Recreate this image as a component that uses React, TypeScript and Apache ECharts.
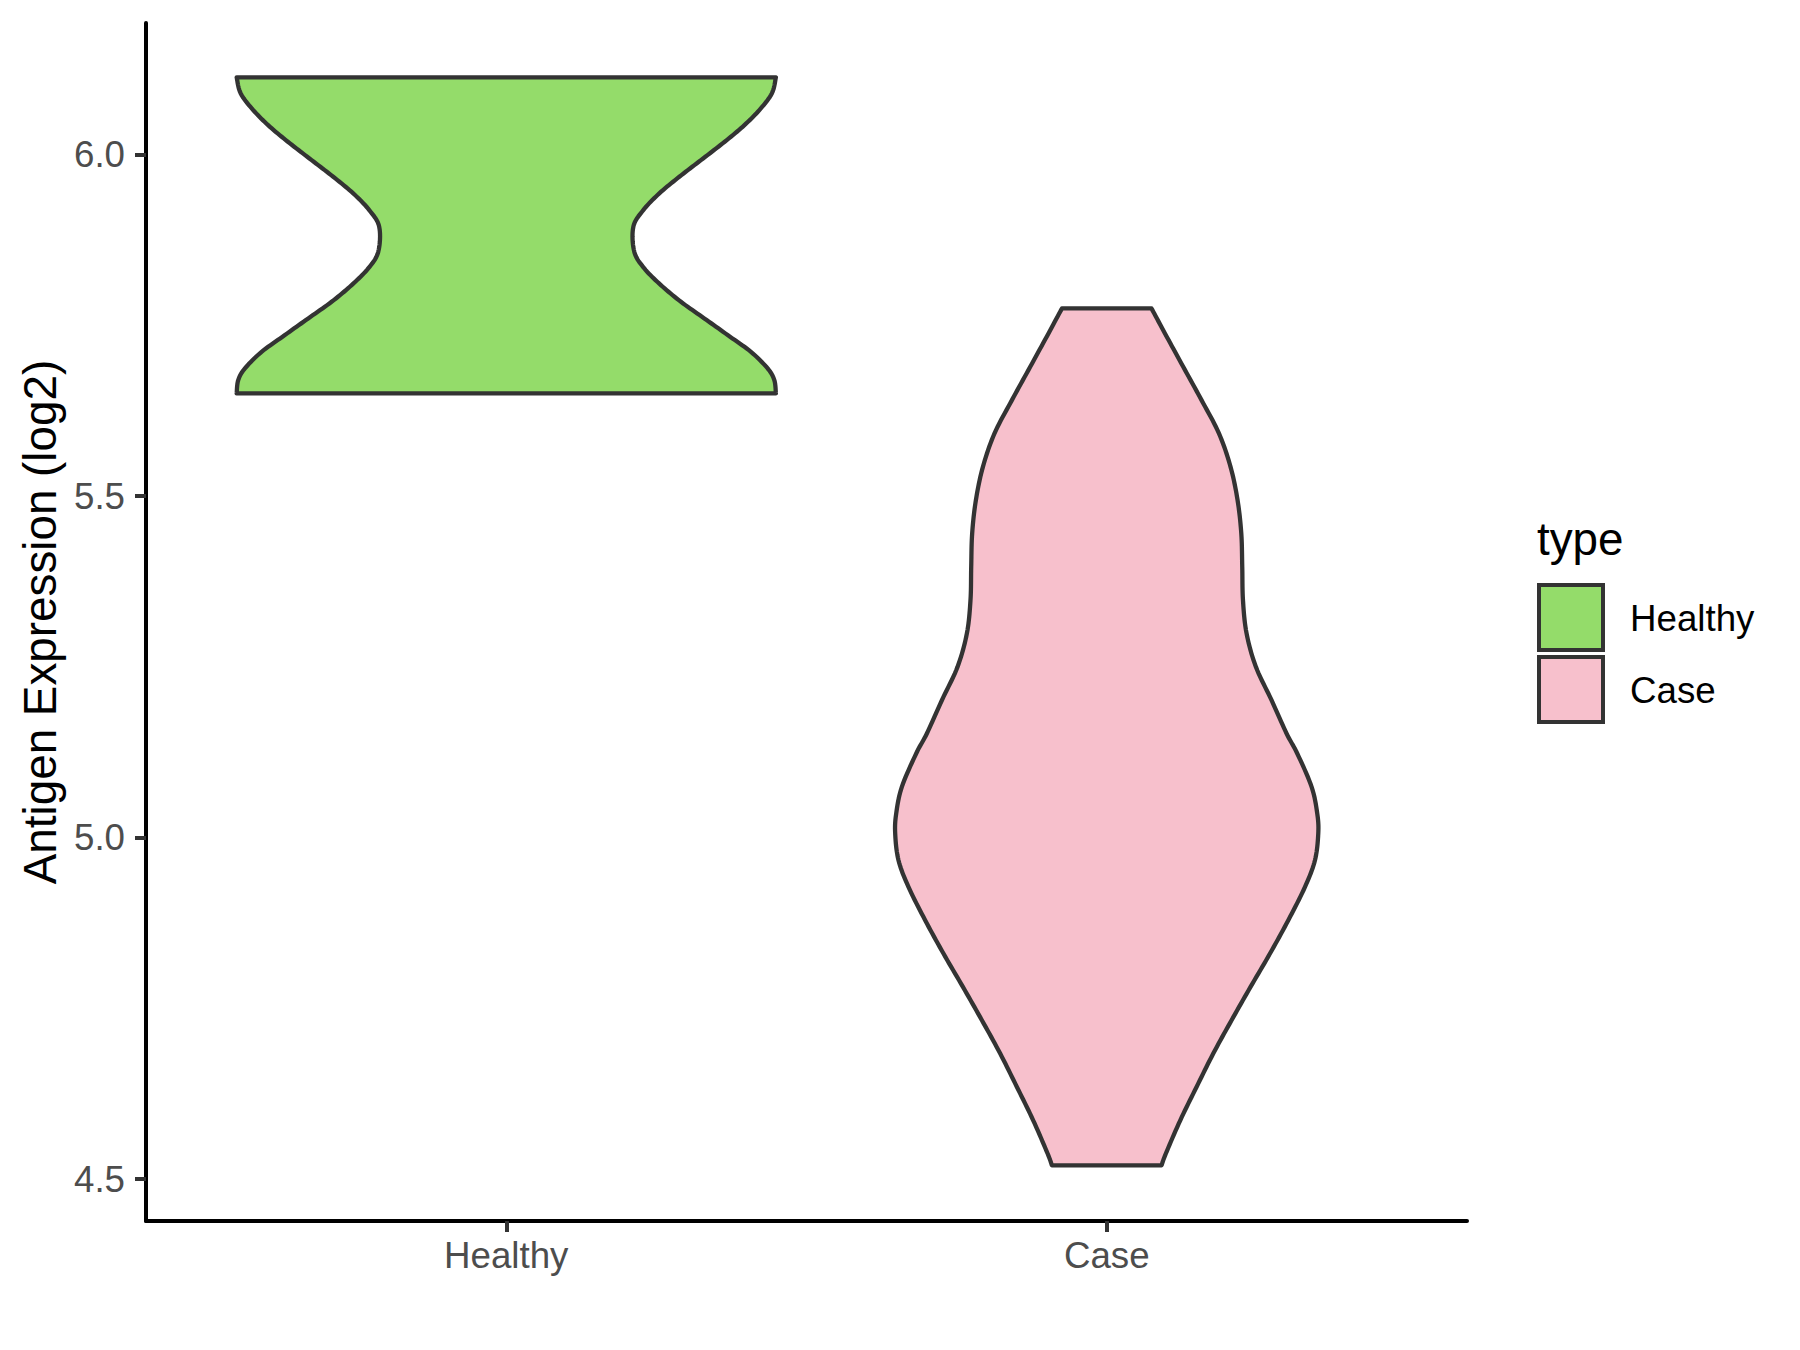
import React, { useEffect, useRef } from "react";
import * as echarts from "echarts";

const categories = ["Healthy", "Case"];
const yTicks = [4.5, 5.0, 5.5, 6.0];
const yAxisTitle = "Antigen Expression (log2)";
const legendTitle = "type";
const fillColors = ["#94DC6A", "#F7C0CC"];

// Violin outlines: y value and half-width (in category units)
const healthyY = [6.1134, 6.0899, 6.0655, 6.041, 6.0167, 5.9922, 5.9678, 5.9435, 5.919, 5.8945, 5.8579, 5.8336, 5.8092, 5.7847, 5.7604, 5.736, 5.7114, 5.6871, 5.67, 5.6505];
const healthyHalfWidth = [0.449, 0.4423, 0.4215, 0.3936, 0.3603, 0.3242, 0.2882, 0.2549, 0.2282, 0.2116, 0.2132, 0.2299, 0.2575, 0.2909, 0.3298, 0.3687, 0.4075, 0.4353, 0.4464, 0.449];
const caseY = [5.775, 5.7384, 5.6895, 5.6407, 5.5919, 5.543, 5.4942, 5.4454, 5.3965, 5.3477, 5.299, 5.25, 5.2012, 5.1525, 5.1232, 5.0743, 5.0353, 5.006, 4.9669, 4.9278, 4.879, 4.8302, 4.7813, 4.7325, 4.6837, 4.6348, 4.586, 4.5373, 4.52];
const caseHalfWidth = [0.0746, 0.097, 0.1274, 0.1579, 0.1869, 0.2062, 0.2179, 0.2241, 0.2257, 0.2269, 0.2329, 0.2485, 0.2745, 0.2995, 0.3173, 0.3412, 0.3506, 0.3523, 0.3468, 0.3302, 0.3024, 0.2719, 0.2395, 0.2079, 0.1774, 0.1496, 0.1225, 0.0985, 0.0913];

const FONT = "'Liberation Sans', Arial, Helvetica, sans-serif";

function smoothPts(pts: number[][], steps = 10): number[][] {
  const out: number[][] = [];
  const n = pts.length;
  for (let i = 0; i < n - 1; i++) {
    const p0 = pts[Math.max(i - 1, 0)];
    const p1 = pts[i];
    const p2 = pts[i + 1];
    const p3 = pts[Math.min(i + 2, n - 1)];
    for (let s = 0; s < steps; s++) {
      const t = s / steps;
      const t2 = t * t;
      const t3 = t2 * t;
      const f = (k: number) =>
        0.5 *
        (2 * p1[k] +
          (-p0[k] + p2[k]) * t +
          (2 * p0[k] - 5 * p1[k] + 4 * p2[k] - p3[k]) * t2 +
          (-p0[k] + 3 * p1[k] - 3 * p2[k] + p3[k]) * t3);
      out.push([f(0), f(1)]);
    }
  }
  out.push(pts[n - 1]);
  return out;
}

export default function App() {
  const ref = useRef<HTMLDivElement>(null);
  useEffect(() => {
    const chart = echarts.init(ref.current!, null, { renderer: "svg" });
    const makeSeries = (idx: number, ys: number[], hws: number[]) => ({
      type: "custom",
      name: categories[idx],
      coordinateSystem: "cartesian2d",
      encode: { x: 0, y: 1 },
      data: [[idx + 1, ys[0]]],
      clip: false,
      renderItem: (params: any, api: any) => {
        const xc = idx + 1;
        const left = ys.map((y, i) => api.coord([xc - hws[i], y]));
        const right = ys.map((y, i) => api.coord([xc + hws[i], y]));
        const L = smoothPts(left);
        const R = smoothPts(right).reverse();
        return {
          type: "polygon",
          shape: { points: L.concat(R) },
          style: {
            fill: fillColors[idx],
            stroke: "#333333",
            lineWidth: 4.3,
            lineJoin: "round",
          },
        };
      },
    });

    const legendItems: any[] = [
      {
        type: "text",
        x: 1537,
        y: 539,
        style: { text: legendTitle, font: `45.8px ${FONT}`, fill: "#000000", align: "left", verticalAlign: "middle" },
      },
    ];
    categories.forEach((c, i) => {
      const top = 585 + i * 72;
      legendItems.push({
        type: "rect",
        shape: { x: 1539, y: top, width: 64, height: 65 },
        style: { fill: fillColors[i], stroke: "#333333", lineWidth: 4 },
      });
      legendItems.push({
        type: "text",
        x: 1630,
        y: top + 33.5,
        style: { text: c, font: `36.7px ${FONT}`, fill: "#000000", align: "left", verticalAlign: "middle" },
      });
    });

    chart.setOption({
      animation: false,
      backgroundColor: "#ffffff",
      grid: { left: 146, right: 333, top: 23, bottom: 129, containLabel: false },
      xAxis: {
        type: "value",
        min: 0.4,
        max: 2.6,
        splitLine: { show: false },
        axisLine: { show: true, onZero: false, lineStyle: { color: "#000000", width: 4 } },
        axisTick: { show: true, customValues: [1, 2], length: 11, lineStyle: { color: "#333333", width: 4 } },
        axisLabel: {
          customValues: [1, 2],
          formatter: (v: number) => categories[Math.round(v) - 1] ?? "",
          color: "#4D4D4D",
          fontSize: 36.7,
          fontFamily: FONT,
          margin: 34,
          verticalAlign: "middle",
        },
      },
      yAxis: {
        type: "value",
        min: 4.4385,
        max: 6.193,
        splitLine: { show: false },
        axisLine: { show: true, onZero: false, lineStyle: { color: "#000000", width: 4 } },
        axisTick: { show: true, customValues: yTicks, length: 11, lineStyle: { color: "#333333", width: 4 } },
        axisLabel: {
          customValues: yTicks,
          formatter: (v: number) => v.toFixed(1),
          color: "#4D4D4D",
          fontSize: 36.7,
          fontFamily: FONT,
          margin: 21,
          align: "right",
          verticalAlign: "middle",
        },
      },
      graphic: [
        {
          type: "text",
          x: 40,
          y: 622,
          rotation: Math.PI / 2,
          style: {
            text: yAxisTitle,
            font: `45.8px ${FONT}`,
            fill: "#000000",
            align: "center",
            verticalAlign: "middle",
          },
        },
        ...legendItems,
      ],
      series: [makeSeries(0, healthyY, healthyHalfWidth), makeSeries(1, caseY, caseHalfWidth)],
    });
    return () => chart.dispose();
  }, []);
  return (
    <div
      ref={ref}
      style={{ position: "absolute", left: 0, top: 0, width: 1800, height: 1350 }}
    />
  );
}
